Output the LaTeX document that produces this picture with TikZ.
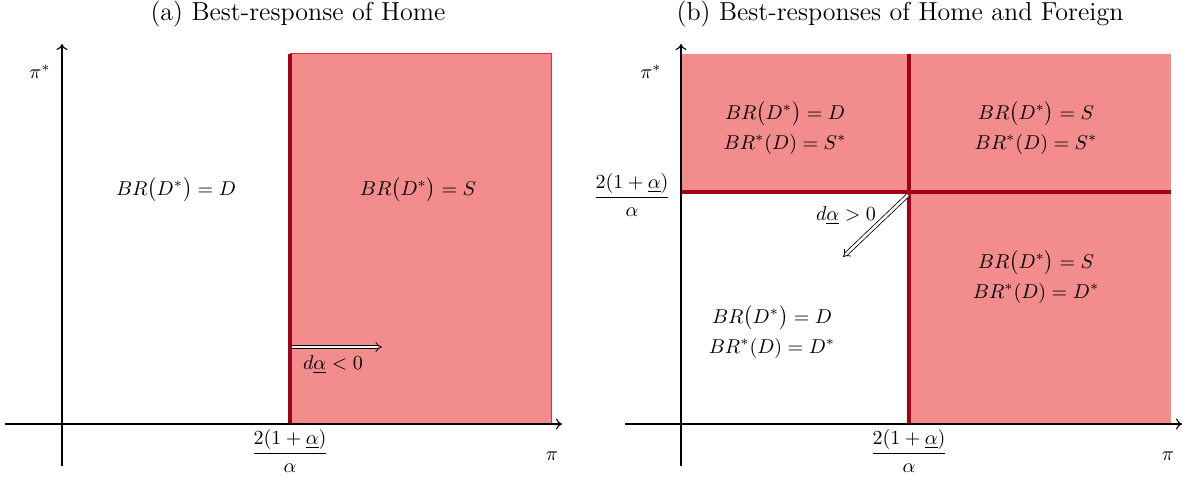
\documentclass[tikz,border=0pt]{standalone}
\usetikzlibrary{arrows.meta}
\definecolor{pinkfill}{RGB}{243,140,140}
\definecolor{darkred}{RGB}{165,0,20}
\definecolor{borderred}{RGB}{225,40,60}
\tikzset{
  region/.style={fill=pinkfill, draw=none},
  boundary/.style={draw=darkred, line width=1.9pt},
  axis/.style={draw=black, line width=0.55pt, -{To[length=3pt,width=5.5pt]}},
  lbl/.style={inner sep=1pt, font=\normalsize},
  title/.style={inner sep=1pt, font=\fontsize{13}{15}\selectfont},
  dblarrow/.style={double, double distance=1.3pt, line width=0.4pt, -{Implies}},
}
\newcommand{\thr}{\displaystyle\frac{2(1+\underline{\alpha})}{\alpha}}
\begin{document}
\begin{tikzpicture}[x=0.5pt, y=-0.5pt]
\useasboundingbox (0,0) rectangle (1186,481);
% ---------- Panel (a) ----------
\node[title] (ta) at (298,14) {(a) Best-response of Home};
\fill[region] (290,54) rectangle (551,424);
\draw[borderred, line width=0.5pt] (290,54) -- (551,54) -- (551,424);
\coordinate (a-top) at (290,54);
\coordinate (a-bot) at (290,424);
\draw[boundary] (a-top) -- (a-bot);
\coordinate (a-ys) at (62,466);
\coordinate (a-ye) at (62,44);
\coordinate (a-xs) at (5,424);
\coordinate (a-xe) at (562,424);
\draw[axis] (a-ys) -- (a-ye);
\draw[axis] (a-xs) -- (a-xe);
\node[lbl] (a-piy) at (40,72) {$\pi^*$};
\node[lbl] (a-pix) at (552,456) {$\pi$};
\node[lbl] (a-frac) at (290,451) {$\thr$};
\node[lbl] (a-D) at (176,190) {$BR\bigl(D^*\bigr) = D$};
\node[lbl] (a-S) at (418,190) {$BR\bigl(D^*\bigr) = S$};
\coordinate (a-as) at (292,347);
\coordinate (a-ae) at (382,347);
\draw[dblarrow] (a-as) -- (a-ae);
\node[lbl] (a-da) at (333,365) {$d\underline{\alpha} < 0$};
% ---------- Panel (b) ----------
\node[title] (tb) at (900,14) {(b) Best-responses of Home and Foreign};
\fill[region] (681,54) rectangle (1171,192);
\fill[region] (909,192) rectangle (1171,424);
\coordinate (b-vt) at (909,54);
\coordinate (b-vb) at (909,424);
\coordinate (b-hl) at (681,192);
\coordinate (b-hr) at (1171,192);
\draw[boundary] (b-vt) -- (b-vb);
\draw[boundary] (b-hl) -- (b-hr);
\coordinate (b-ys) at (681,466);
\coordinate (b-ye) at (681,44);
\coordinate (b-xs) at (625,424);
\coordinate (b-xe) at (1182,424);
\draw[axis] (b-ys) -- (b-ye);
\draw[axis] (b-xs) -- (b-xe);
\node[lbl] (b-piy) at (651,72) {$\pi^*$};
\node[lbl] (b-pix) at (1168,456) {$\pi$};
\node[lbl] (b-fracy) at (632,195) {$\thr$};
\node[lbl] (b-fracx) at (909,451) {$\thr$};
\node[lbl, align=center] (b-TL) at (785,128) {$BR\bigl(D^*\bigr) = D$\\[3pt]$BR^*(D) = S^*$};
\node[lbl, align=center] (b-TR) at (1036,128) {$BR\bigl(D^*\bigr) = S$\\[3pt]$BR^*(D) = S^*$};
\node[lbl, align=center] (b-BR) at (1036,277) {$BR\bigl(D^*\bigr) = S$\\[3pt]$BR^*(D) = D^*$};
\node[lbl, align=center] (b-BL) at (772,332) {$BR\bigl(D^*\bigr) = D$\\[3pt]$BR^*(D) = D^*$};
\coordinate (b-as) at (908,195);
\coordinate (b-ae) at (843,257);
\draw[dblarrow] (b-as) -- (b-ae);
\node[lbl] (b-da) at (846,216) {$d\underline{\alpha} > 0$};
\end{tikzpicture}
\end{document}
